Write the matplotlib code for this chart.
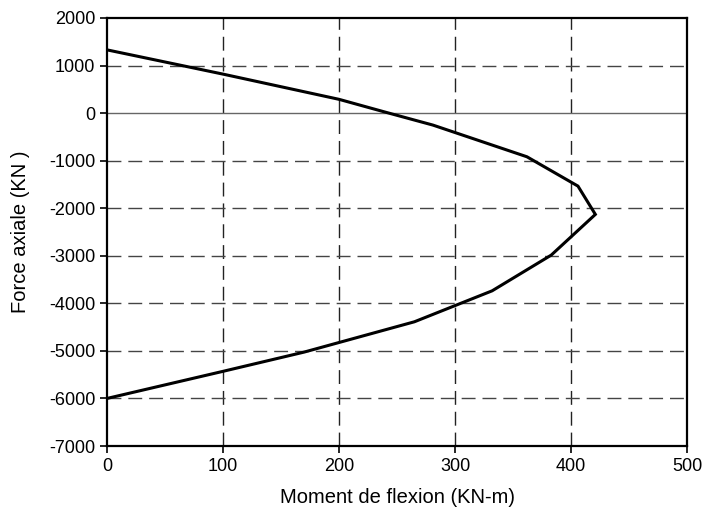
import matplotlib
matplotlib.use("Agg")
import matplotlib.pyplot as plt

moment = [0, 100, 200, 240, 281, 362, 406, 421, 383, 332, 265, 170, 100, 0]
force = [1330, 820, 290, 20, -252, -918, -1535, -2130, -2985, -3737, -4388, -5025, -5430, -6000]

xticks = [0, 100, 200, 300, 400, 500]
yticks = [2000, 1000, 0, -1000, -2000, -3000, -4000, -5000, -6000, -7000]

plt.rcParams['font.family'] = ['Liberation Sans', 'DejaVu Sans']
plt.rcParams['axes.unicode_minus'] = False

fig = plt.figure(figsize=(7.04, 5.17), dpi=100)
ax = fig.add_axes([107/704, 71/517, 580/704, 428/517])

for xv in xticks[1:-1]:
    ax.axvline(xv, color='#222222', lw=1.0, dashes=(10, 5), zorder=1)
for yv in yticks[1:-1]:
    if yv == 0:
        ax.axhline(yv, color='#666666', lw=1.0, zorder=1)
    else:
        ax.axhline(yv, color='#444444', lw=1.0, dashes=(10, 5), zorder=1)

ax.plot(moment, force, color='black', lw=2.2, zorder=3, solid_joinstyle='miter')

ax.set_xlim(0, 500)
ax.set_ylim(-7000, 2000)
ax.set_xticks(xticks)
ax.set_yticks(yticks)
ax.tick_params(direction='out', length=5, width=1.2, labelsize=13, colors='black', pad=3.5)
for s in ax.spines.values():
    s.set_linewidth(1.6)
ax.set_xlabel('Moment de flexion (KN-m)', fontsize=14.5)
ax.set_ylabel('Force axiale (KN )', fontsize=14.5)
ax.xaxis.set_label_coords(0.5, -0.098)
ax.yaxis.set_label_coords(-0.132, 0.5)

fig.savefig('out.png', dpi=100)
